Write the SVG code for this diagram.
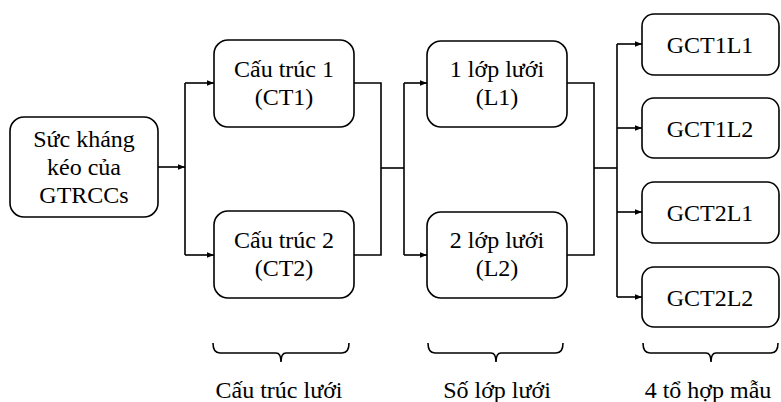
<svg xmlns="http://www.w3.org/2000/svg" width="781" height="402" viewBox="0 0 781 402" font-family="Liberation Serif, Times New Roman, serif" font-size="24">
<style>
.box{fill:#fff;stroke:#000;stroke-width:1.6}
text{font-family:"Liberation Serif","Times New Roman",serif;font-size:24px;fill:#000;text-anchor:middle}
.c{fill:none;stroke:#000;stroke-width:1.6}
</style>
<defs>
<marker id="ah" viewBox="0 0 10 8" refX="10" refY="4" markerWidth="7" markerHeight="6" markerUnits="userSpaceOnUse" orient="auto">
<path d="M0,0 L10,4 L0,8 Z" fill="#000"/>
</marker>
</defs>
<rect width="781" height="402" fill="#fff"/>
<g id="connectors">
<path class="c" d="M158,167 H185" marker-end="url(#ah)"/>
<path class="c" d="M185,83 V255"/>
<path class="c" d="M185,83 H214" marker-end="url(#ah)"/>
<path class="c" d="M185,255 H214" marker-end="url(#ah)"/>
<path class="c" d="M354,83 H381 V255 H354"/>
<path class="c" d="M381,168 H404"/>
<path class="c" d="M404,83 V255"/>
<path class="c" d="M404,83 H427" marker-end="url(#ah)"/>
<path class="c" d="M404,255 H427" marker-end="url(#ah)"/>
<path class="c" d="M567,83 H594 V255 H567"/>
<path class="c" d="M594,168 H617"/>
<path class="c" d="M617,44 V297"/>
<path class="c" d="M617,44 H642" marker-end="url(#ah)"/>
<path class="c" d="M617,128 H642" marker-end="url(#ah)"/>
<path class="c" d="M617,212 H642" marker-end="url(#ah)"/>
<path class="c" d="M617,297 H642" marker-end="url(#ah)"/>
</g>
<g id="src">
<rect class="box" x="10" y="117" width="148" height="100" rx="14"/>
<text x="84" y="147">Sức kháng</text>
<text x="84" y="175">kéo của</text>
<text x="84" y="203">GTRCCs</text>
</g>
<g id="ct1">
<rect class="box" x="214" y="40" width="140" height="87" rx="14"/>
<text x="284" y="77">Cấu trúc 1</text>
<text x="284" y="105">(CT1)</text>
</g>
<g id="ct2">
<rect class="box" x="214" y="211" width="140" height="87" rx="14"/>
<text x="284" y="248">Cấu trúc 2</text>
<text x="284" y="276">(CT2)</text>
</g>
<g id="l1">
<rect class="box" x="427" y="41" width="140" height="86" rx="14"/>
<text x="497" y="77">1 lớp lưới</text>
<text x="497" y="105">(L1)</text>
</g>
<g id="l2">
<rect class="box" x="427" y="212" width="140" height="86" rx="14"/>
<text x="497" y="248">2 lớp lưới</text>
<text x="497" y="276">(L2)</text>
</g>
<g id="g11">
<rect class="box" x="642" y="14" width="137" height="61" rx="12"/>
<text x="710" y="53">GCT1L1</text>
</g>
<g id="g12">
<rect class="box" x="642" y="98" width="137" height="60" rx="12"/>
<text x="710" y="137">GCT1L2</text>
</g>
<g id="g21">
<rect class="box" x="642" y="182" width="137" height="61" rx="12"/>
<text x="710" y="221">GCT2L1</text>
</g>
<g id="g22">
<rect class="box" x="642" y="267" width="137" height="60" rx="12"/>
<text x="710" y="306">GCT2L2</text>
</g>
<g id="braces">
<path class="c" stroke-width="1.3" d="M213,343 Q213,353 220,353 H276 Q281,353 281,362 Q281,353 286,353 H342 Q349,353 349,343"/>
<path class="c" stroke-width="1.3" d="M428,343 Q428,353 435,353 H491 Q496,353 496,362 Q496,353 501,353 H556 Q563,353 563,343"/>
<path class="c" stroke-width="1.3" d="M643,343 Q643,353 650,353 H706 Q711,353 711,362 Q711,353 716,353 H771 Q778,353 778,343"/>
<text x="279" y="398">Cấu trúc lưới</text>
<text x="497" y="398">Số lớp lưới</text>
<text x="708" y="398">4 tổ hợp mẫu</text>
</g>
</svg>
